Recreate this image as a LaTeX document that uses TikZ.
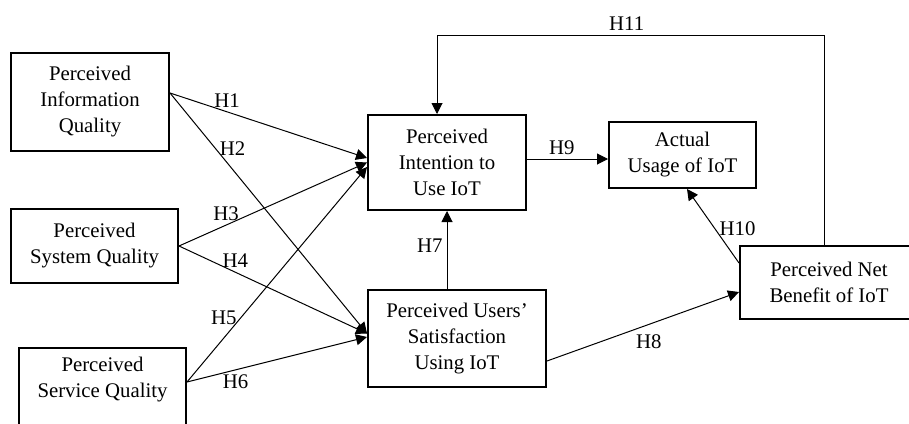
\documentclass[tikz,border=0pt]{standalone}
\usepackage{fontspec}
\setmainfont{Liberation Serif}
\usetikzlibrary{arrows.meta,calc}

\begin{document}
\begin{tikzpicture}[
  x=0.5pt,y=-0.5pt,
  every node/.style={font=\fontsize{10.4}{13}\selectfont},
  box/.style={draw,line width=1pt,align=center,inner sep=2pt},
  lbl/.style={inner sep=2pt},
  link/.style={line width=0.5pt,-{Triangle[length=5.5pt,width=5.5pt]}}]
  \useasboundingbox (0,0) rectangle (909,423);
  \clip (0,0) rectangle (909,423);
  % constructs
  \node[box,minimum width=79pt,minimum height=49pt](info) at(90,102){Perceived\\Information\\Quality};
  \node[box,minimum width=83.5pt,minimum height=37pt](sys) at(94.5,246){Perceived\\System Quality};
  \node[box,minimum width=83.5pt,minimum height=46pt](serv) at(102.5,394){Perceived\\Service Quality\\\strut};
  \node[box,minimum width=79pt,minimum height=47.5pt](int) at(447,162.5){Perceived\\Intention to\\Use IoT};
  \node[box,minimum width=73.5pt,minimum height=33pt](act) at(682.5,155){Actual\\Usage of IoT};
  \node[box,minimum width=89pt,minimum height=48.5pt](sat) at(457,338.5){Perceived Users'\\Satisfaction\\Using IoT};
  \node[box,minimum width=89pt,minimum height=36.5pt](net) at(829,282.5){Perceived Net\\Benefit of IoT};
  % hypotheses
  \draw[link]([yshift=4.5pt]info.east)--node[lbl,above,pos=0.29](h1){H1}([yshift=2.25pt]int.west);
  \draw[link]([yshift=4.5pt]info.east)--node[lbl,right,pos=0.23](h2){H2}([yshift=2.5pt]sat.west);
  \draw[link](sys.east)--node[lbl,above,pos=0.25](h3){H3}(int.west);
  \draw[link](sys.east)--node[lbl,above,pos=0.3](h4){H4}([yshift=2.5pt]sat.west);
  \draw[link]([yshift=6pt]serv.east)--node[lbl,left,pos=0.3](h5){H5}([yshift=-2.25pt]int.west);
  \draw[link]([yshift=6pt]serv.east)--node[lbl,below,pos=0.27](h6){H6}([yshift=0.75pt]sat.west);
  \draw[link](int.south |- sat.north)--node[lbl,left,pos=0.55](h7){H7}(int.south);
  \draw[link]([yshift=-11.25pt]sat.east)--node[lbl,below=3pt,pos=0.53](h8){H8}([yshift=-4.75pt]net.west);
  \coordinate(h9a) at([yshift=1.75pt]int.east);
  \draw[link](h9a)--node[lbl,above,pos=0.43](h9){H9}(h9a -| act.west);
  \draw[link]([yshift=-9pt]net.north west)--node[lbl,right,pos=0.46](h10){H10}([xshift=2.25pt]act.south);
  \coordinate(top) at(0,35);
  \coordinate(netN) at([xshift=-2.5pt]net.north);
  \coordinate(intN) at([xshift=-5pt]int.north);
  \draw[link](netN)--(netN |- top)--node[lbl,above,pos=0.51](h11){H11}(intN |- top)--(intN);
\end{tikzpicture}
\end{document}
